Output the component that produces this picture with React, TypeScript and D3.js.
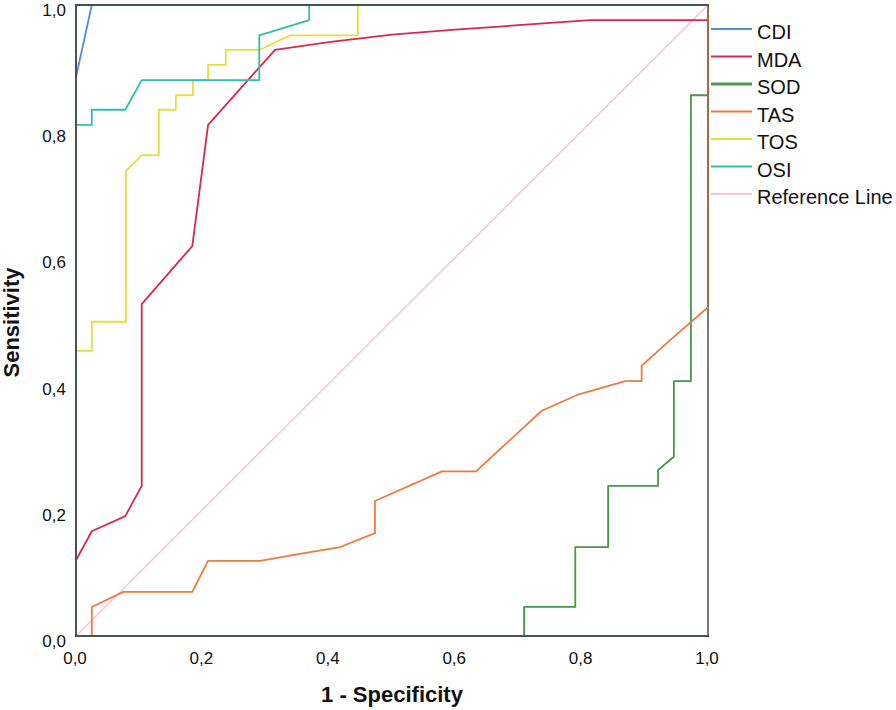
import React from "react";
import * as d3 from "d3";

type Pt = [number, number];

const seriesNames = ["CDI", "MDA", "SOD", "TAS", "TOS", "OSI"];
const seriesColors = ["#4f8fd8", "#d8284f", "#45994a", "#f07a40", "#e6df3a", "#2dbfae"];
const refColor = "#f9c3da";

const cdi: Pt[] = [[0, 0], [0, 0.886], [0.025, 1], [1, 1]];
const mda: Pt[] = [
  [0, 0], [0, 0.12], [0.025, 0.166], [0.078, 0.19], [0.104, 0.238], [0.104, 0.526],
  [0.184, 0.618], [0.209, 0.81], [0.315, 0.929], [0.4, 0.941], [0.5, 0.953],
  [0.6, 0.961], [0.7, 0.968], [0.813, 0.976], [1, 0.976], [1, 1],
];
const sod: Pt[] = [
  [0, 0], [0.709, 0], [0.709, 0.046], [0.79, 0.046], [0.79, 0.141], [0.842, 0.141],
  [0.842, 0.238], [0.921, 0.238], [0.921, 0.263], [0.946, 0.284], [0.946, 0.404],
  [0.973, 0.404], [0.973, 0.857], [1, 0.857], [1, 1],
];
const tas: Pt[] = [
  [0, 0], [0.025, 0], [0.025, 0.046], [0.075, 0.07], [0.184, 0.07], [0.209, 0.119],
  [0.291, 0.119], [0.354, 0.13], [0.418, 0.141], [0.473, 0.163], [0.473, 0.214],
  [0.579, 0.261], [0.633, 0.261], [0.737, 0.357], [0.793, 0.382], [0.869, 0.404],
  [0.895, 0.404], [0.895, 0.428], [0.94, 0.469], [1, 0.521], [1, 1],
];
const tos: Pt[] = [
  [0, 0], [0, 0.452], [0.025, 0.452], [0.025, 0.498], [0.079, 0.498], [0.079, 0.737],
  [0.104, 0.762], [0.131, 0.762], [0.131, 0.834], [0.158, 0.834], [0.158, 0.857],
  [0.185, 0.857], [0.185, 0.881], [0.209, 0.881], [0.209, 0.905], [0.237, 0.905],
  [0.237, 0.929], [0.291, 0.929], [0.339, 0.952], [0.446, 0.952], [0.446, 1], [1, 1],
];
const osi: Pt[] = [
  [0, 0], [0, 0.81], [0.025, 0.81], [0.025, 0.834], [0.078, 0.834], [0.104, 0.881],
  [0.29, 0.881], [0.29, 0.952], [0.369, 0.976], [0.369, 1], [1, 1],
];
const refLine: Pt[] = [[0, 0], [1, 1]];

const seriesData = [cdi, mda, sod, tas, tos, osi];
const tickValues = [0, 0.2, 0.4, 0.6, 0.8, 1.0];
const tickLabels = ["0,0", "0,2", "0,4", "0,6", "0,8", "1,0"];
const xTitle = "1 - Specificity";
const yTitle = "Sensitivity";
const legendLabels = [...seriesNames, "Reference Line"];
const legendColors = [...seriesColors, refColor];

export default function App() {
  const W = 896, H = 710;
  const x = d3.scaleLinear().domain([0, 1]).range([76, 708]);
  const y = d3.scaleLinear().domain([0, 1]).range([636, 5]);
  const line = d3.line<Pt>().x((d) => x(d[0])).y((d) => y(d[1]));
  const font = "'Liberation Sans', Arial, sans-serif";
  const axisColor = "#4a5350";
  const tasEdge = tas.slice(-2);

  return (
    <svg width={W} height={H} style={{ position: "absolute", left: 0, top: 0, background: "#fff" }}>
      <rect x={0} y={0} width={W} height={H} fill="#fff" />
      {/* right frame */}
      <line x1={x(1)} x2={x(1)} y1={y(0)} y2={y(1)} stroke="#7a7a7a" strokeWidth={2} />
      {/* reference line */}
      <path d={line(refLine) || ""} fill="none" stroke={refColor} strokeWidth={1.5} />
      {seriesData.map((s, i) => (
        <path key={i} d={line(s) || ""} fill="none" stroke={seriesColors[i]} strokeWidth={1.8} strokeLinejoin="round" />
      ))}
      {/* TAS overlapping the right frame appears brown */}
      <path d={line(tasEdge) || ""} fill="none" stroke="#8a6652" strokeWidth={1.6} />
      {/* axes */}
      <line x1={x(0)} x2={x(0)} y1={y(0) + 1} y2={y(1) - 1} stroke={axisColor} strokeWidth={2} />
      <line x1={x(0) - 1} x2={x(1) + 1} y1={y(0)} y2={y(0)} stroke={axisColor} strokeWidth={2} />
      <line x1={x(0) - 1} x2={x(1) + 1} y1={y(1)} y2={y(1)} stroke="#3c5848" strokeWidth={2} />
      {/* y tick labels */}
      {tickValues.map((v, i) => (
        <text key={"y" + i} x={66} y={y(v) + 11} textAnchor="end" fontFamily={font} fontSize={17} fill="#111">
          {tickLabels[i]}
        </text>
      ))}
      {/* x tick labels */}
      {tickValues.map((v, i) => (
        <text key={"x" + i} x={x(v) - 1} y={664} textAnchor="middle" fontFamily={font} fontSize={17} fill="#111">
          {tickLabels[i]}
        </text>
      ))}
      <text x={392} y={702} textAnchor="middle" fontFamily={font} fontSize={22} fontWeight="bold" fill="#111">
        {xTitle}
      </text>
      <text
        transform={`translate(19, ${(y(0) + y(1)) / 2 + 2}) rotate(-90)`}
        textAnchor="middle"
        fontFamily={font}
        fontSize={22}
        fontWeight="bold"
        fill="#111"
      >
        {yTitle}
      </text>
      {/* legend */}
      {legendLabels.map((lab, i) => {
        const ly = 29 + i * 27.5;
        return (
          <g key={"l" + i}>
            <line x1={711} x2={752} y1={ly} y2={ly} stroke={legendColors[i]} strokeWidth={i === 2 ? 3 : 2} />
            <text x={757} y={ly + 10} fontFamily={font} fontSize={20} fill="#111">
              {lab}
            </text>
          </g>
        );
      })}
    </svg>
  );
}
